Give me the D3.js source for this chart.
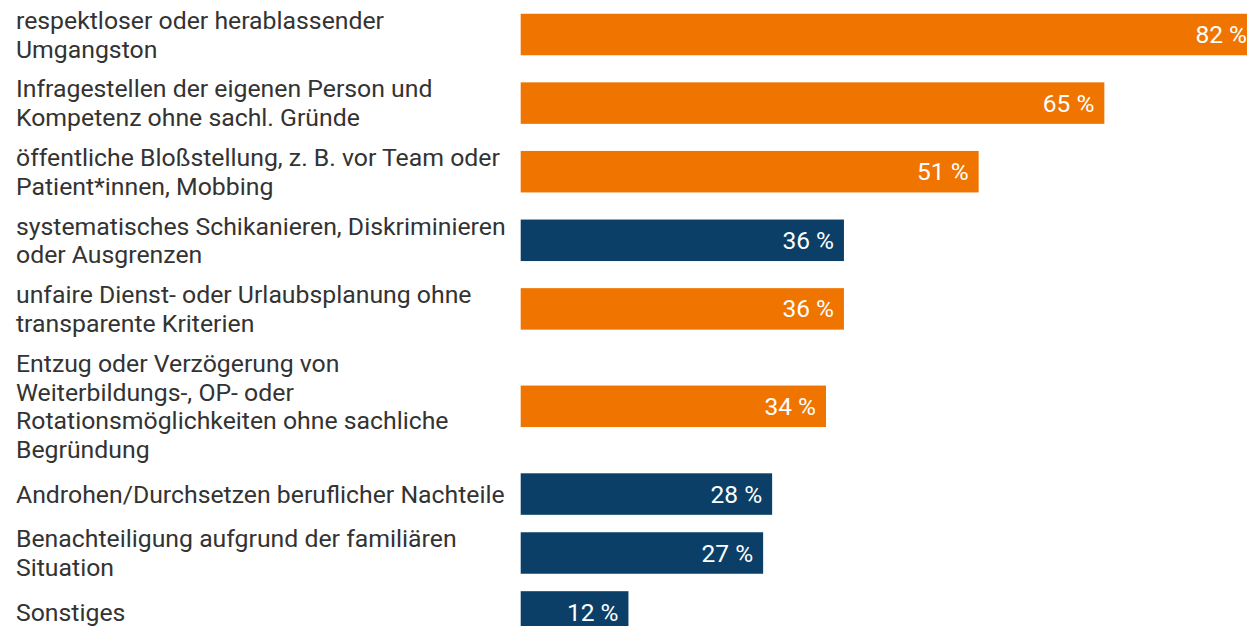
<!DOCTYPE html>
<html>
<head>
<meta charset="utf-8">
<title>Erfahrungen</title>
<style type="text/css">
body {
	margin: 0;
	background: #fff;
	overflow: hidden;
}
.label {
	font-family: Roboto, sans-serif;
	font-size: 24.8px;
	fill: #333;
}
.value {
	font-family: Roboto, sans-serif;
	font-size: 24.5px;
	fill: #fff;
}
</style>
<script src="https://cdn.jsdelivr.net/npm/d3@7"></script>
</head>
<body>
<div id="chart"></div>

<script type="text/javascript">
	// categories, line breaks as in the original layout
	var categories = [
		'respektloser oder herablassender\nUmgangston',
		'Infragestellen der eigenen Person und\nKompetenz ohne sachl. Gründe',
		'öffentliche Bloßstellung, z. B. vor Team oder\nPatient*innen, Mobbing',
		'systematisches Schikanieren, Diskriminieren\noder Ausgrenzen',
		'unfaire Dienst- oder Urlaubsplanung ohne\ntransparente Kriterien',
		'Entzug oder Verzögerung von\nWeiterbildungs-, OP- oder\nRotationsmöglichkeiten ohne sachliche\nBegründung',
		'Androhen/Durchsetzen beruflicher Nachteile',
		'Benachteiligung aufgrund der familiären\nSituation',
		'Sonstiges'
	];
	var values = [ 82, 65, 51, 36, 36, 34, 28, 27, 12 ];
	var groups = [ 'a', 'a', 'a', 'b', 'a', 'a', 'b', 'b', 'b' ];

	var width = 1247, height = 626;
	var lineH = 28.8, barH = 41.5, gap = 7.8;

	var color = d3.scaleOrdinal().domain([ 'a', 'b' ]).range([ '#f07500', '#0b3f67' ]);
	var x = d3.scaleLinear().domain([ 0, 82 ]).range([ 520.7, 1257 ]);

	// row layout: each row as tall as its label or bar
	var rows = [];
	var yPos = null;
	categories.forEach(function(c, i) {
		var lines = c.split('\n');
		var h = Math.max(lines.length * lineH + 3.2, barH);
		if (yPos === null) yPos = 34.5 - h / 2;
		rows.push({ lines: lines, value: values[i], group: groups[i], cy: yPos + h / 2 });
		yPos += h + gap;
	});

	var svg = d3.select('#chart').append('svg')
		.attr('width', width)
		.attr('height', height);

	var row = svg.selectAll('g.row').data(rows).enter()
		.append('g').attr('class', 'row');

	row.append('rect')
		.attr('x', x(0))
		.attr('y', function(d) { return d.cy - barH / 2; })
		.attr('width', function(d) { return x(d.value) - x(0); })
		.attr('height', barH)
		.attr('fill', function(d) { return color(d.group); });

	row.append('text')
		.attr('class', 'value')
		.attr('x', function(d) { return x(d.value) - 10; })
		.attr('y', function(d) { return d.cy; })
		.attr('dy', '0.35em')
		.attr('text-anchor', 'end')
		.text(function(d) { return d.value + ' %'; });

	row.append('text')
		.attr('class', 'label')
		.each(function(d) {
			var t = d3.select(this);
			var n = d.lines.length;
			d.lines.forEach(function(line, k) {
				t.append('tspan')
					.attr('x', 16)
					.attr('y', d.cy + (k - (n - 1) / 2) * lineH)
					.attr('dy', '0.35em')
					.text(line);
			});
		});
</script>
</body>
</html>
